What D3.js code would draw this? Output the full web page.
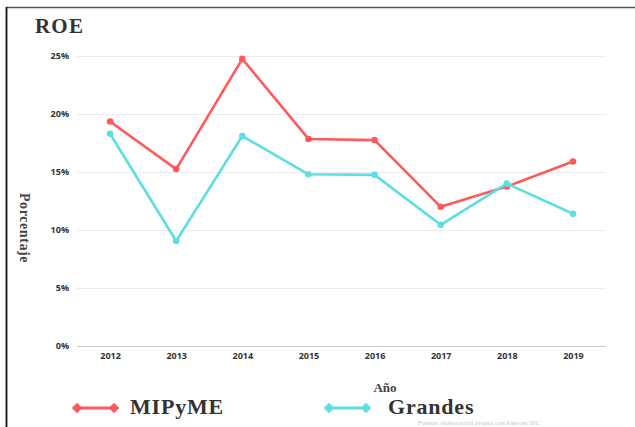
<!DOCTYPE html>
<html>
<head>
<meta charset="utf-8">
<script src="https://cdn.jsdelivr.net/npm/d3@7"></script>
<style>
  body { margin: 0; background: #fff; }
  svg { display: block; }
</style>
</head>
<body>
<div id="chart"></div>
<script>
// data
const years = ["2012", "2013", "2014", "2015", "2016", "2017", "2018", "2019"];
const mipyme = [19.35, 15.25, 24.75, 17.85, 17.75, 12.0, 13.75, 15.9];
const grandes = [18.3, 9.05, 18.1, 14.8, 14.75, 10.45, 14.0, 11.4];
const yTicks = [0, 5, 10, 15, 20, 25];
const seriesNames = ["MIPyME", "Grandes"];

const W = 635, H = 427;
const margin = { top: 56, right: 29, bottom: 81, left: 77 };
const width = W - margin.left - margin.right;
const height = H - margin.top - margin.bottom;

const colors = ["#ff5a5a", "#5cdfe2"];
const serif = "'Liberation Serif', 'DejaVu Serif', serif";
const sans = "'Open Sans', 'Noto Sans', sans-serif";

const svg = d3.select("#chart")
    .append("svg")
    .attr("width", W)
    .attr("height", H);

// frame lines (top and left)
svg.append("line")
    .attr("x1", 6).attr("x2", W).attr("y1", 7.5).attr("y2", 7.5)
    .attr("stroke", "#555").attr("stroke-width", 1.5);
svg.append("line")
    .attr("x1", 6.5).attr("x2", 6.5).attr("y1", 7).attr("y2", H)
    .attr("stroke", "#111").attr("stroke-width", 1.8);

const g = svg.append("g")
    .attr("transform", `translate(${margin.left},${margin.top})`);

const x = d3.scalePoint()
    .domain(years)
    .range([0, width])
    .padding(0.5);

const y = d3.scaleLinear()
    .domain([0, 25])
    .range([height, 0]);

// gridlines
g.append("g")
    .attr("class", "grid")
    .call(d3.axisLeft(y)
        .tickValues(yTicks)
        .tickSize(-width)
        .tickFormat("")
        .tickSizeOuter(0))
    .call(s => s.select(".domain").remove())
    .selectAll("line")
    .attr("stroke", (d) => d === 0 ? "#c8c8c8" : "#ebebeb")
    .attr("stroke-width", 1.2);

// y axis labels
g.append("g")
    .call(d3.axisLeft(y)
        .tickValues(yTicks)
        .tickSize(0)
        .tickPadding(8)
        .tickFormat((d) => d + "%"))
    .call(s => s.select(".domain").remove())
    .selectAll("text")
    .style("font-family", sans)
    .style("font-size", "9px")
    .style("font-weight", "700")
    .attr("fill", "#333");

// x axis labels
g.append("g")
    .attr("transform", `translate(0,${height})`)
    .call(d3.axisBottom(x).tickSize(0).tickPadding(7))
    .call(s => s.select(".domain").remove())
    .selectAll("text")
    .style("font-family", sans)
    .style("font-size", "9px")
    .style("font-weight", "700")
    .attr("fill", "#333");

// lines
const line = d3.line()
    .x((d, i) => x(years[i]))
    .y((d) => y(d));

[mipyme, grandes].forEach((vals, k) => {
    g.append("path")
        .datum(vals)
        .attr("fill", "none")
        .attr("stroke", colors[k])
        .attr("stroke-width", 2.6)
        .attr("stroke-linejoin", "round")
        .attr("d", line);

    g.selectAll(null)
        .data(vals)
        .enter()
        .append("circle")
        .attr("cx", (d, i) => x(years[i]))
        .attr("cy", (d) => y(d))
        .attr("r", 3.3)
        .attr("fill", colors[k]);
});

// title
svg.append("text")
    .attr("x", 35)
    .attr("y", 33)
    .style("font-family", serif)
    .style("font-size", "21px")
    .style("font-weight", "700")
    .style("letter-spacing", "1.2px")
    .attr("fill", "#333")
    .text("ROE");

// y axis title
svg.append("text")
    .attr("transform", "translate(20,228) rotate(90)")
    .attr("text-anchor", "middle")
    .style("font-family", serif)
    .style("font-size", "14px")
    .style("font-weight", "700")
    .style("letter-spacing", "0.6px")
    .attr("fill", "#444")
    .text("Porcentaje");

// x axis title
svg.append("text")
    .attr("x", 385)
    .attr("y", 392)
    .attr("text-anchor", "middle")
    .style("font-family", serif)
    .style("font-size", "13px")
    .style("font-weight", "700")
    .attr("fill", "#444")
    .text("Año");

// legend
const legendX = [77, 329];
const legendTextX = [130, 388];
seriesNames.forEach((name, k) => {
    const lg = svg.append("g")
        .attr("transform", `translate(${legendX[k]},408)`);
    lg.append("line")
        .attr("x1", 0).attr("x2", 37)
        .attr("stroke", colors[k])
        .attr("stroke-width", 3);
    [0, 37].forEach((cx) => {
        lg.append("path")
            .attr("d", d3.symbol(d3.symbolDiamond2, 70)())
            .attr("transform", `translate(${cx},0)`)
            .attr("fill", colors[k]);
    });
    svg.append("text")
        .attr("x", legendTextX[k])
        .attr("y", 414)
        .style("font-family", serif)
        .style("font-size", "22px")
        .style("font-weight", "700")
        .style("letter-spacing", "0.8px")
        .attr("fill", "#333")
        .text(name);
});

// faded source note at the bottom edge
svg.append("text")
    .attr("x", 418)
    .attr("y", 425)
    .style("font-family", serif)
    .style("font-size", "7px")
    .attr("fill", "#c4c4c4")
    .text("Fuente: elaboración propia con base en SIC");
</script>
</body>
</html>
